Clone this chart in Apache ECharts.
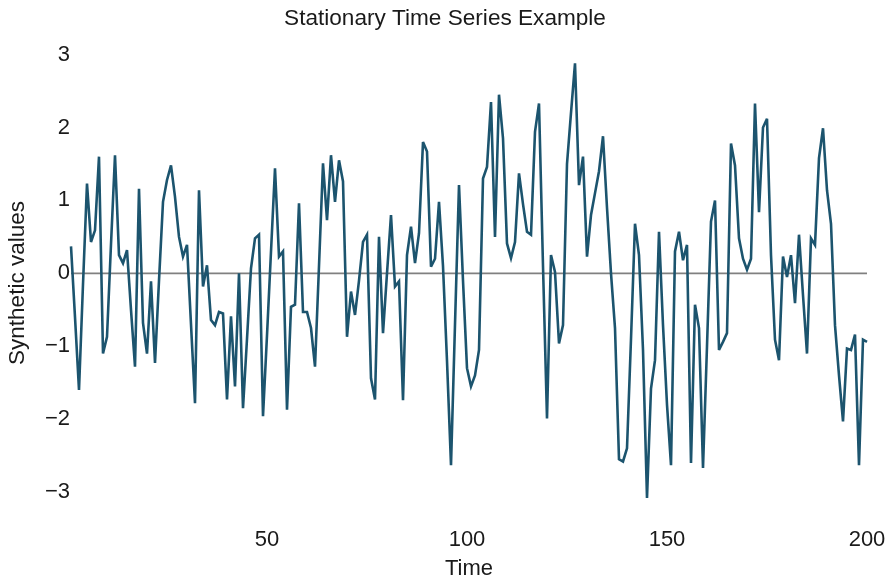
<!DOCTYPE html>
<html>
<head>
<meta charset="utf-8">
<script src="https://cdn.jsdelivr.net/npm/echarts@6/dist/echarts.min.js"></script>
<style>
  html, body { margin: 0; padding: 0; background: #ffffff; }
  #chart { width: 890px; height: 585px; }
</style>
</head>
<body>
<div id="chart"></div>
<script>
// Synthetic stationary series, one value per time step (t = 1 .. 200)
const values = [
  0.37, -0.60, -1.60, -0.15, 1.23, 0.43, 0.59, 1.60, -1.10, -0.87,
  0.40, 1.62, 0.25, 0.14, 0.32, -0.50, -1.28, 1.16, -0.68, -1.10,
  -0.11, -1.23, -0.10, 0.98, 1.28, 1.48, 1.05, 0.50, 0.23, 0.39,
  -0.70, -1.78, 1.14, -0.18, 0.11, -0.64, -0.71, -0.53, -0.55, -1.73,
  -0.59, -1.55, 0.00, -1.85, -0.90, 0.07, 0.48, 0.53, -1.96, -0.85,
  0.30, 1.44, 0.23, 0.30, -1.87, -0.46, -0.43, 0.96, -0.53, -0.53,
  -0.75, -1.28, 0.10, 1.51, 0.73, 1.62, 0.98, 1.55, 1.26, -0.87,
  -0.25, -0.57, -0.10, 0.43, 0.53, -1.44, -1.73, 0.50, -0.82, 0.00,
  0.80, -0.18, -0.11, -1.74, 0.25, 0.64, 0.14, 0.55, 1.80, 1.67,
  0.09, 0.20, 0.98, 0.10, -1.20, -2.63, -0.70, 1.21, -0.10, -1.30,
  -1.55, -1.40, -1.05, 1.30, 1.46, 2.35, 0.50, 2.45, 1.85, 0.41,
  0.21, 0.43, 1.37, 0.95, 0.57, 0.53, 1.94, 2.33, 0.10, -1.99,
  0.25, 0.02, -0.96, -0.71, 1.50, 2.20, 2.88, 1.21, 1.60, 0.23,
  0.80, 1.10, 1.40, 1.88, 0.90, 0.00, -0.75, -2.55, -2.58, -2.40,
  -0.90, 0.68, 0.25, -1.05, -3.08, -1.58, -1.19, 0.57, -0.71, -1.80,
  -2.63, 0.30, 0.57, 0.18, 0.39, -2.60, -0.43, -0.75, -2.67, -1.00,
  0.71, 1.00, -1.05, -0.94, -0.82, 1.78, 1.48, 0.48, 0.20, 0.05,
  0.20, 2.33, 0.84, 2.00, 2.12, 0.25, -0.91, -1.19, 0.23, -0.05,
  0.25, -0.41, 0.53, -0.30, -1.10, 0.48, 0.39, 1.58, 1.99, 1.14,
  0.68, -0.71, -1.40, -2.03, -1.03, -1.05, -0.84, -2.63, -0.91, -0.94
];

// Time index for each value
const times = values.map((_, i) => i + 1);

// Tick labels
const xTicks = [50, 100, 150, 200];
const yTicks = [-3, -2, -1, 0, 1, 2, 3];

// Reference level drawn across the whole time span
const baselineLevel = 0;

const FONT = '"Liberation Sans", Arial, Helvetica, sans-serif';
const TEXT = '#1a1a1a';

const chart = echarts.init(document.getElementById('chart'), null, { renderer: 'canvas' });

chart.setOption({
  animation: false,
  backgroundColor: '#ffffff',
  title: {
    text: 'Stationary Time Series Example',
    left: 'center',
    top: 2,
    textStyle: { fontFamily: FONT, fontSize: 22.6, fontWeight: 'normal', color: TEXT }
  },
  grid: { left: 71, top: 40, width: 796, height: 481, containLabel: false },
  xAxis: {
    type: 'value',
    min: times[0],
    max: times[times.length - 1],
    name: 'Time',
    nameLocation: 'middle',
    nameGap: 44,
    nameTextStyle: { fontFamily: FONT, fontSize: 22, color: TEXT },
    axisLine: { show: false },
    axisTick: { show: false },
    splitLine: { show: false },
    axisLabel: {
      customValues: xTicks,
      margin: 15,
      fontFamily: FONT, fontSize: 22, color: TEXT
    }
  },
  yAxis: {
    type: 'value',
    min: -3.3,
    max: 3.2,
    axisLine: { show: false },
    axisTick: { show: false },
    splitLine: { show: false },
    axisLabel: {
      customValues: yTicks,
      margin: 1,
      fontFamily: FONT, fontSize: 22, color: TEXT,
      formatter: v => String(v).replace('-', '\u2212')
    }
  },
  graphic: [{
    type: 'text',
    x: 18,
    y: 283,
    rotation: Math.PI / 2,
    style: {
      text: 'Synthetic values',
      fontFamily: FONT, fontSize: 22.5, fill: TEXT,
      align: 'center', verticalAlign: 'middle'
    }
  }],
  series: [
    {
      type: 'line',
      z: 1,
      silent: true,
      showSymbol: false,
      data: [[times[0], baselineLevel], [times[times.length - 1], baselineLevel]],
      lineStyle: { color: '#808080', width: 1.6 }
    },
    {
      type: 'line',
      z: 2,
      showSymbol: false,
      data: times.map((t, i) => [t, values[i]]),
      lineStyle: { color: '#1c546e', width: 2.6, join: 'miter', miterLimit: 4 }
    }
  ]
});
</script>
</body>
</html>
